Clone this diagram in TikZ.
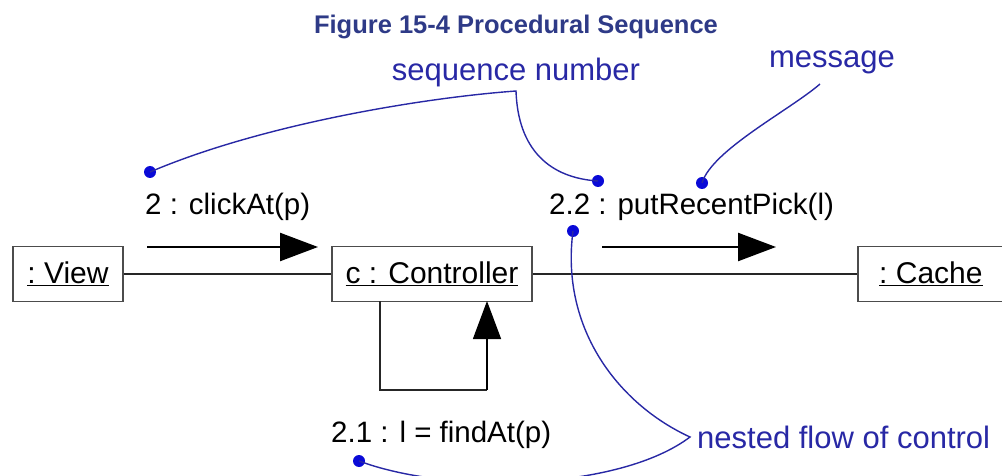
\documentclass[tikz,border=0pt]{standalone}
\usepackage{fontspec}
\setmainfont{Liberation Sans}
\usetikzlibrary{arrows.meta}
\definecolor{titleblue}{RGB}{46,58,135}
\definecolor{annblue}{RGB}{40,40,165}
\definecolor{dotblue}{RGB}{10,10,215}
\tikzset{
  obj/.style={draw=black!70, line width=1.8pt, minimum height=55pt, inner sep=0pt, font=\fontsize{30}{32}\selectfont},
  lbl/.style={inner sep=0pt, font=\fontsize{29.5}{32}\selectfont},
  ann/.style={inner sep=0pt, text=annblue, font=\fontsize{31}{33}\selectfont},
  link/.style={draw=black!85, line width=1.4pt},
  msg/.style={draw=black, line width=2.4pt, -{Triangle[length=38pt,width=28pt]}},
  note/.style={draw=annblue, line width=1.4pt},
  dotm/.style={circle, fill=dotblue, inner sep=0pt, minimum size=12pt},
}
\begin{document}
\begin{tikzpicture}[x=1pt,y=-1pt]
\useasboundingbox (0,0) rectangle (1002,476);
\node[font=\bfseries\fontsize{25.5}{28}\selectfont, text=titleblue] (title) at (516,27) {Figure 15-4 Procedural Sequence};

% objects
\node[obj, minimum width=110pt] (view) at (68,274) {\underline{:\ View}};
\node[obj, minimum width=200pt] (ctrl) at (432,274) {\underline{c : Controller}};
\node[obj, minimum width=160pt, anchor=west] (cache) at (857,274) {\hspace*{-14pt}\underline{:\ Cache}};

\draw[link] (view.east) -- (ctrl.west);
\draw[link] (ctrl.east) -- (cache.west);

% messages
\coordinate (m1s) at (147,247);
\coordinate (m1e) at (318,247);
\draw[msg] (m1s) -- (m1e);
\node[lbl, anchor=west] (l1) at (145,207) {2 : clickAt(p)};

\coordinate (m2s) at (602,247);
\coordinate (m2e) at (776,247);
\draw[msg] (m2s) -- (m2e);
\node[lbl, anchor=west] (l2) at (549,207) {2.2 : putRecentPick(l)};

% self loop
\coordinate (lp1) at (380,301);
\coordinate (lp2) at (380,390);
\coordinate (lp3) at (487,390);
\coordinate (lp4) at (487,301);
\draw[link] (lp1) -- (lp2) -- (lp3);
\draw[link, draw=black, -{Triangle[length=38pt,width=28pt]}] (lp3) -- (lp4);
\node[lbl, anchor=west] (l3) at (331,435) {2.1 : l = findAt(p)};

% annotations
\node[ann] (seq) at (516,72) {sequence number};
\node[ann] (mes) at (832,62) {message};
\node[ann, anchor=west] (nest) at (697,437) {nested flow of control};

\node[dotm] (d1) at (150,172) {};
\node[dotm] (d2) at (598,181) {};
\node[dotm] (d3) at (702,183) {};
\node[dotm] (d4) at (573,231) {};
\node[dotm] (d5) at (359,461) {};

\coordinate (apex1) at (516,91);
\coordinate (apex2) at (690,437);
\coordinate (mtail) at (820,84);
\draw[note] (d1.center) .. controls (260,125) and (420,98) .. (apex1)
  .. controls (518,150) and (550,178) .. (d2.center);
\draw[note] (mtail) .. controls (790,110) and (712,150) .. (d3.center);
\draw[note] (d4.center) .. controls (560,330) and (620,405) .. (apex2)
  .. controls (620,490) and (450,495) .. (d5.center);
\end{tikzpicture}
\end{document}
